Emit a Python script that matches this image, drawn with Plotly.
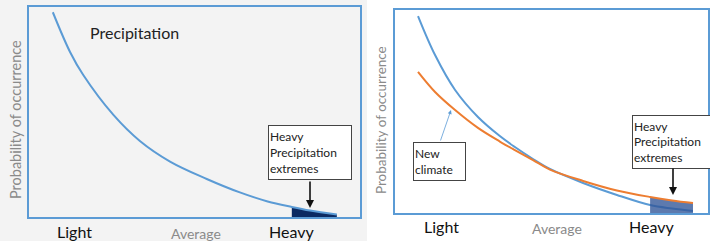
import plotly.graph_objects as go

W, H = 710, 244

# ---------------- data ----------------
# left panel: current climate distribution of precipitation intensity
left_x = [7.2, 12.4, 16.4, 25.5, 33.5, 42.6, 53.7, 63.7, 72.1, 79.4, 84.9, 93.0]
left_y = [97.5, 78.6, 67.6, 48.6, 36.2, 26.4, 18.1, 11.7, 7.4, 4.8, 3.1, 1.2]
left_heavy_x = [79.4, 84.9, 93.0]
left_heavy_y = [4.8, 3.1, 1.2]

# right panel: old (blue) vs new (orange) climate
right_x = [7.35, 12.8, 19.2, 26.5, 33.5, 38.3, 44.1, 49.5, 60.1, 70.9, 81.5, 88.5, 95.2]
old_y = [97.0, 77.8, 60.6, 47.3, 37.9, 32.5, 26.6, 21.7, 14.8, 8.9, 3.9, 2.2, 1.0]
new_y = [69.5, 59.6, 50.7, 41.9, 35.2, 31.0, 26.1, 21.4, 15.8, 11.1, 7.9, 6.2, 4.9]
right_heavy_x = [81.5, 88.5, 95.2]
right_heavy_y = [7.9, 6.2, 4.9]

tick_labels = ["Light", "Average", "Heavy"]
y_title = "Probability of occurrence"

BLUE = "#5b9bd5"
ORANGE = "#ed7d31"
FONT = "Lato"


def X(px):
    return px / W


def Y(py):
    return 1 - py / H


fig = go.Figure()

# left panel traces
fig.add_trace(go.Scatter(x=left_heavy_x, y=left_heavy_y, mode="lines", fill="tozeroy",
                         line=dict(width=0, shape="spline", color="#0c2a62"),
                         fillcolor="#0c2a62", xaxis="x", yaxis="y", hoverinfo="skip"))
fig.add_trace(go.Scatter(x=left_x, y=left_y, mode="lines",
                         line=dict(color=BLUE, width=2, shape="spline"),
                         xaxis="x", yaxis="y"))

# right panel traces
fig.add_trace(go.Scatter(x=right_x, y=old_y, mode="lines",
                         line=dict(color=BLUE, width=2, shape="spline"),
                         xaxis="x2", yaxis="y2"))
fig.add_trace(go.Scatter(x=right_heavy_x, y=right_heavy_y, mode="lines", fill="tozeroy",
                         line=dict(width=0, shape="spline"),
                         fillcolor="rgba(47,85,151,0.78)", xaxis="x2", yaxis="y2", hoverinfo="skip"))
fig.add_trace(go.Scatter(x=right_x, y=new_y, mode="lines",
                         line=dict(color=ORANGE, width=2, shape="spline"),
                         xaxis="x2", yaxis="y2"))

ax_common = dict(showgrid=False, zeroline=False, showticklabels=False, ticks="",
                 showline=True, mirror=True, linecolor=BLUE, linewidth=1.5,
                 range=[0, 100], fixedrange=True)

fig.update_layout(
    width=W, height=H, margin=dict(l=0, r=0, t=0, b=0),
    paper_bgcolor="white", plot_bgcolor="rgba(0,0,0,0)", showlegend=False,
    xaxis=dict(domain=[X(29), X(360)], anchor="y", **ax_common),
    yaxis=dict(domain=[Y(217), Y(7)], anchor="x", **ax_common),
    xaxis2=dict(domain=[X(395), X(708)], anchor="y2", **ax_common),
    yaxis2=dict(domain=[Y(213), Y(10)], anchor="x2", **ax_common),
    shapes=[dict(type="rect", xref="paper", yref="paper", x0=0, x1=X(367), y0=Y(241), y1=1,
                 fillcolor="#f3f3f3", line=dict(width=0), layer="below")],
)

ann = []
# titles / labels
ann.append(dict(text="Precipitation", x=X(88), y=Y(33), xanchor="left", yanchor="middle",
                font=dict(family=FONT, size=16, color="#222")))
for panel, (xs, yb) in {"L": ([74, 196, 291], 231), "R": ([442, 557, 651], 226)}.items():
    for i, lab in enumerate(tick_labels):
        gray = lab == "Average"
        ann.append(dict(text=lab, x=X(xs[i]), y=Y(yb + (2 if gray else 0)),
                        xanchor="center", yanchor="middle",
                        font=dict(family=FONT, size=14 if gray else 16,
                                  color="#8a8a8a" if gray else "#111")))
for xc, yc, fs in ((15, 120, 14.5), (381, 120, 13.5)):
    ann.append(dict(text=y_title, x=X(xc), y=Y(yc), textangle=-90,
                    xanchor="center", yanchor="middle",
                    font=dict(family=FONT, size=fs, color="#8a8a8a")))

box_text = "Heavy<br>Precipitation<br>extremes"
ann.append(dict(text=box_text, x=X(268), y=Y(125), xanchor="left", yanchor="top",
                width=80, height=51, align="left", valign="middle",
                bordercolor="#444", borderwidth=1, borderpad=1, bgcolor="white",
                font=dict(family=FONT, size=12, color="#222")))
ann.append(dict(text=box_text, x=X(632), y=Y(115), xanchor="left", yanchor="top",
                width=80, height=50, align="left", valign="middle",
                bordercolor="#444", borderwidth=1, borderpad=1, bgcolor="white",
                font=dict(family=FONT, size=12, color="#222")))
ann.append(dict(text="New<br>climate", x=X(413), y=Y(142), xanchor="left", yanchor="top",
                width=49, height=35, align="left", valign="middle",
                bordercolor="#444", borderwidth=1, borderpad=1, bgcolor="white",
                font=dict(family=FONT, size=12, color="#222")))

# arrows
ann.append(dict(text="", x=X(310), y=Y(208), showarrow=True,
                ax=0, ay=-28, arrowhead=2, arrowsize=1, arrowwidth=1.6, arrowcolor="#111"))
ann.append(dict(text="", x=X(673), y=Y(195), showarrow=True,
                ax=0, ay=-28, arrowhead=2, arrowsize=1, arrowwidth=1.6, arrowcolor="#111"))
ann.append(dict(text="", x=X(451), y=Y(110), showarrow=True,
                ax=-11, ay=32, arrowhead=2, arrowsize=1, arrowwidth=0.8, arrowcolor=BLUE))

for a in ann:
    a.setdefault("xref", "paper")
    a.setdefault("yref", "paper")
    a.setdefault("showarrow", False)
fig.update_layout(annotations=ann)

fig.write_html("out.html", config={"displayModeBar": False},
               post_script="document.body.style.margin='0';document.body.style.overflow='hidden';")
